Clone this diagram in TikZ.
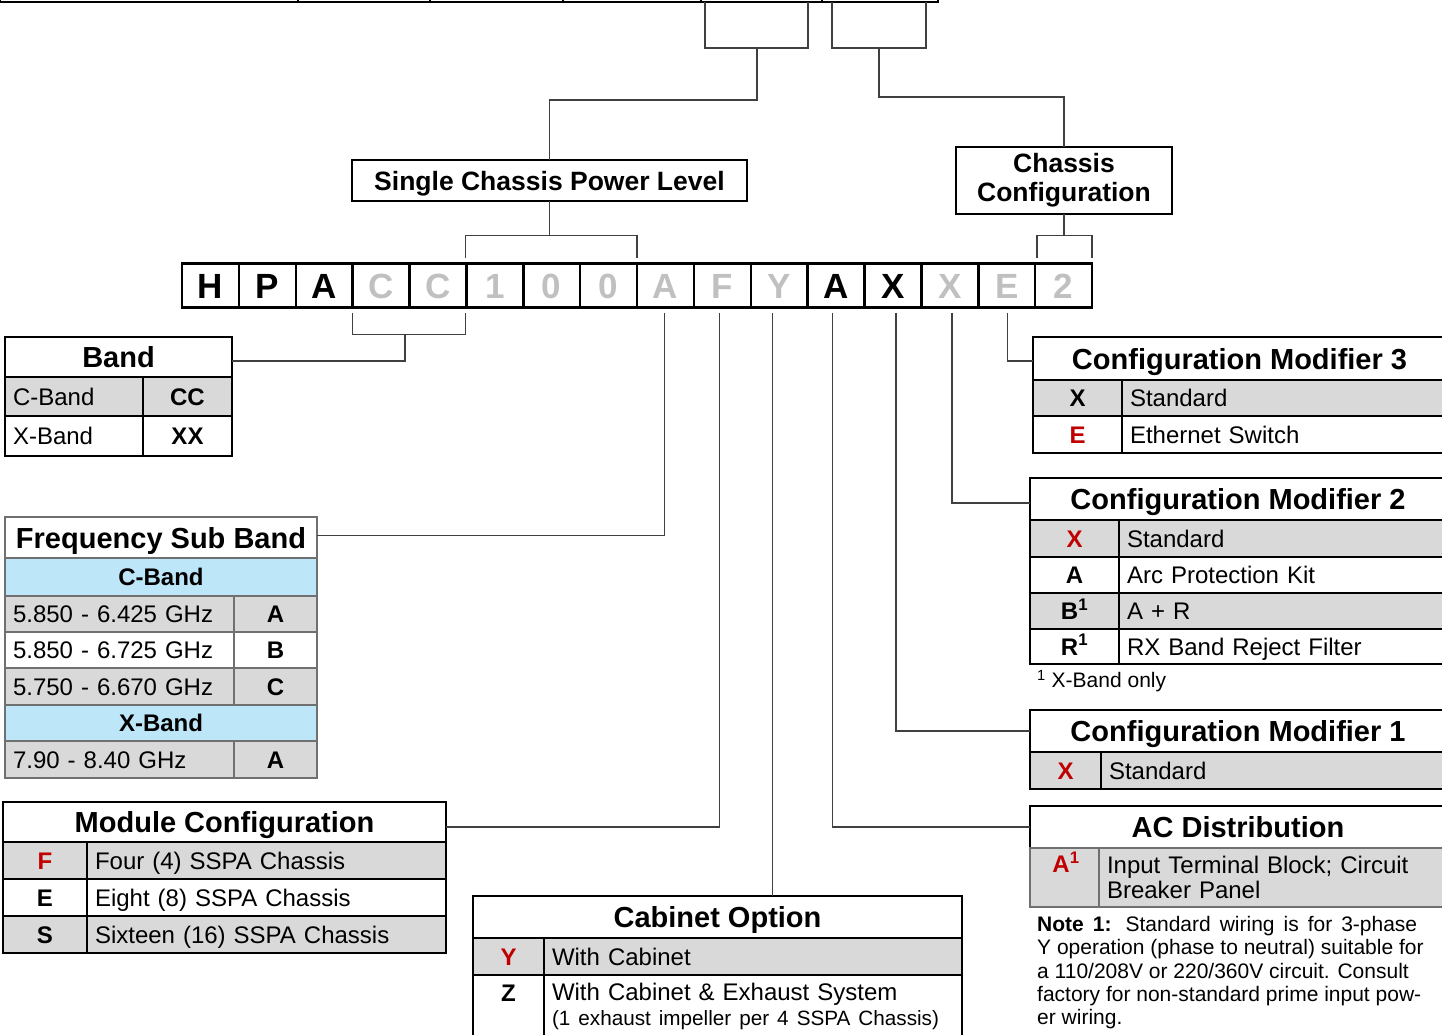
\documentclass[tikz,border=0pt]{standalone}
\usepackage{fontspec}
\setmainfont{Liberation Sans}
\usetikzlibrary{calc}
\definecolor{cgray}{HTML}{D9D9D9}
\definecolor{cblue}{HTML}{BDE6F9}
\definecolor{cred}{HTML}{C00000}
\definecolor{lgray}{HTML}{C0C0C0}
\definecolor{lcol}{HTML}{404040}
\definecolor{fgray}{HTML}{707070}
\newcommand\hdf{\fontsize{29}{33}\selectfont\bfseries}
\newcommand\bdf{\fontsize{24}{28}\selectfont}
\tikzset{
 conn/.style={draw=lcol, line width=1.5pt},
 cell/.style={draw=black, line width=2pt, anchor=north west, inner sep=0pt, outer sep=0pt},
 codebox/.style={cell, line width=2.5pt, minimum width=56.875, minimum height=44.4, font=\fontsize{35}{35}\selectfont\bfseries, text height=25pt, text depth=0pt},
 hd/.style={font=\hdf, text height=21pt, text depth=0pt},
 bd/.style={font=\bdf, text height=17pt, text depth=0pt},
 bdb/.style={font=\bdf\bfseries, text height=17pt, text depth=0pt},
}
\newcommand\ccell[8]{\node[cell,minimum width=#4,minimum height=#5,#6,#7] (#1) at (#2,#3) {#8};}
\newcommand\lcell[8]{\pgfmathsetmacro\lcw{#4-16}\node[cell,minimum width=#4,minimum height=#5,text width=\lcw pt,align=left,#6,#7] (#1) at (#2,#3) {#8};}
\newcommand\cbox[3]{\node[codebox, text=#3] (c#1) at ({182+(#1-1)*56.875},263.3) {#2};}
\begin{document}
\begin{tikzpicture}[x=1pt,y=-1pt]
\useasboundingbox (0,0) rectangle (1442,1034);
% top row (cut off)
\node[cell,minimum width=298,minimum height=41.5] (t1) at (0,-40) {};
\node[cell,minimum width=132,minimum height=41.5] (t2) at (298,-40) {};
\node[cell,minimum width=133,minimum height=41.5] (t3) at (430,-40) {};
\node[cell,minimum width=138,minimum height=41.5] (t4) at (563,-40) {};
\node[cell,minimum width=121,minimum height=41.5] (t5) at (701,-40) {};
\node[cell,minimum width=116,minimum height=41.5] (t6) at (822,-40) {};
\draw[conn] ($(t5.south west)+(4,0)$) |- ($(t5.south east)+(-14,46.5)$) -- ($(t5.south east)+(-14,0)$);
\draw[conn] ($(t6.south west)+(10,0)$) |- ($(t6.south east)+(-12,46.5)$) -- ($(t6.south east)+(-12,0)$);
\coordinate (hb1) at ($(t5.south west)+(56,46.5)$);
\coordinate (hb2) at ($(t6.south west)+(57,46.5)$);
% title boxes
\node[cell, minimum width=395, minimum height=41, font=\fontsize{26.5}{28}\selectfont\bfseries, text height=19pt, text depth=0pt] (scpl) at (352,160) {Single Chassis Power Level};
\node[cell, minimum width=216, minimum height=67, align=center, font=\fontsize{26.5}{29}\selectfont\bfseries] (ccfg) at (956,147) {Chassis\\Configuration};
\draw[conn] (hb1) -- ++(0,52) -| (scpl.north);
\draw[conn] (hb2) -- ++(0,49) -| (ccfg.north);
% code boxes
\cbox{1}{H}{black}\cbox{2}{P}{black}\cbox{3}{A}{black}\cbox{4}{C}{lgray}
\cbox{5}{C}{lgray}\cbox{6}{1}{lgray}\cbox{7}{0}{lgray}\cbox{8}{0}{lgray}
\cbox{9}{A}{lgray}\cbox{10}{F}{lgray}\cbox{11}{Y}{lgray}\cbox{12}{A}{black}
\cbox{13}{X}{black}\cbox{14}{X}{lgray}\cbox{15}{E}{lgray}\cbox{16}{2}{lgray}
\draw[conn] (scpl.south) -- ++(0,34);
\draw[conn] ($(c6.north west)+(-1,-5)$) |- ($(c8.north east)+(0,-28)$) -- ($(c8.north east)+(0,-5)$);
\draw[conn] (ccfg.south) -- ++(0,21);
\draw[conn] ($(c16.north west)+(2,-5)$) |- ($(c16.north east)+(0,-28)$) -- ($(c16.north east)+(0,-5)$);
% Band
\ccell{band}{5}{337}{227}{40}{fill=white}{hd}{Band}
\lcell{bnda}{5}{377}{138}{39}{fill=cgray}{bd}{C-Band}
\ccell{bndb}{143}{377}{89}{39}{fill=cgray}{bdb}{CC}
\lcell{bndc}{5}{416}{138}{40}{fill=white}{bd}{X-Band}
\ccell{bndd}{143}{416}{89}{40}{fill=white}{bdb}{XX}
% Frequency sub band
\ccell{fsb}{5}{517}{312}{41}{fill=white,draw=fgray}{hd}{Frequency Sub Band}
\ccell{fcb}{5}{558}{312}{38}{fill=cblue,draw=fgray}{bdb}{C-Band}
\lcell{f1a}{5}{596}{229}{36}{fill=cgray,draw=fgray}{bd}{5.850 - 6.425 GHz}
\ccell{f1b}{234}{596}{83}{36}{fill=cgray,draw=fgray}{bdb}{A}
\lcell{f2a}{5}{632}{229}{36}{fill=white,draw=fgray}{bd}{5.850 - 6.725 GHz}
\ccell{f2b}{234}{632}{83}{36}{fill=white,draw=fgray}{bdb}{B}
\lcell{f3a}{5}{668}{229}{37}{fill=cgray,draw=fgray}{bd}{5.750 - 6.670 GHz}
\ccell{f3b}{234}{668}{83}{37}{fill=cgray,draw=fgray}{bdb}{C}
\ccell{fxb}{5}{705}{312}{36}{fill=cblue,draw=fgray}{bdb}{X-Band}
\lcell{f4a}{5}{741}{229}{37}{fill=cgray,draw=fgray}{bd}{7.90 - 8.40 GHz}
\ccell{f4b}{234}{741}{83}{37}{fill=cgray,draw=fgray}{bdb}{A}
% Module configuration
\ccell{mod}{3}{802}{443}{40}{fill=white}{hd}{Module Configuration}
\ccell{m1a}{3}{842}{84}{37}{fill=cgray,text=cred}{bdb}{F}
\lcell{m1b}{87}{842}{359}{37}{fill=cgray}{bd}{Four (4) SSPA Chassis}
\ccell{m2a}{3}{879}{84}{37}{fill=white}{bdb}{E}
\lcell{m2b}{87}{879}{359}{37}{fill=white}{bd}{Eight (8) SSPA Chassis}
\ccell{m3a}{3}{916}{84}{37}{fill=cgray}{bdb}{S}
\lcell{m3b}{87}{916}{359}{37}{fill=cgray}{bd}{Sixteen (16) SSPA Chassis}
% Cabinet option
\ccell{cab}{473}{896}{489}{42}{fill=white}{hd}{Cabinet Option}
\ccell{k1a}{473}{938}{71}{37}{fill=cgray,text=cred}{bdb}{Y}
\lcell{k1b}{544}{938}{418}{37}{fill=cgray}{bd}{With Cabinet}
\node[cell, fill=white, minimum width=71, minimum height=63] (k2a) at (473,975) {};
\node[font=\bdf\bfseries, text height=17pt, text depth=0pt, inner sep=0pt] (kz) at (508.5,993) {Z};
\node[cell, fill=white, minimum width=418, minimum height=63, text width=402pt, align=left, font=\fontsize{24}{25}\selectfont] (k2b) at (544,975) {With Cabinet \& Exhaust System\\{\fontsize{20.7}{25}\selectfont (1 exhaust impeller per 4 SSPA Chassis)}};
% Configuration modifier 3
\ccell{cm3}{1033}{337}{413}{43}{fill=white}{hd}{Configuration Modifier 3}
\ccell{x3a}{1033}{380}{89}{36}{fill=cgray}{bdb}{X}
\lcell{x3b}{1122}{380}{324}{36}{fill=cgray}{bd}{Standard}
\ccell{e3a}{1033}{416}{89}{37}{fill=white,text=cred}{bdb}{E}
\lcell{e3b}{1122}{416}{324}{37}{fill=white}{bd}{Ethernet Switch}
% Configuration modifier 2
\ccell{cm2}{1030}{478}{416}{42}{fill=white}{hd}{Configuration Modifier 2}
\ccell{q1a}{1030}{520}{89}{37}{fill=cgray,text=cred}{bdb}{X}
\lcell{q1b}{1119}{520}{327}{37}{fill=cgray}{bd}{Standard}
\ccell{q2a}{1030}{557}{89}{36}{fill=white}{bdb}{A}
\lcell{q2b}{1119}{557}{327}{36}{fill=white}{bd}{Arc Protection Kit}
\ccell{q3a}{1030}{593}{89}{36}{fill=cgray}{bdb}{B\textsuperscript{1}}
\lcell{q3b}{1119}{593}{327}{36}{fill=cgray}{bd}{A + R}
\ccell{q4a}{1030}{629}{89}{35}{fill=white}{bdb}{R\textsuperscript{1}}
\lcell{q4b}{1119}{629}{327}{35}{fill=white}{bd}{RX Band Reject Filter}
\node[anchor=west, inner sep=0pt, font=\fontsize{21}{24}\selectfont] (fn) at (1037,681) {\textsuperscript{1} X-Band only};
% Configuration modifier 1
\ccell{cm1}{1030}{710}{416}{42}{fill=white}{hd}{Configuration Modifier 1}
\ccell{p1a}{1030}{752}{71}{37}{fill=cgray,text=cred}{bdb}{X}
\lcell{p1b}{1101}{752}{345}{37}{fill=cgray}{bd}{Standard}
% AC distribution
\ccell{ach}{1030}{806}{416}{42}{fill=white}{hd}{AC Distribution}
\node[cell, fill=cgray, draw=fgray, minimum width=69, minimum height=59] (ac1a) at (1030,848) {};
\node[text=cred, font=\bdf\bfseries, text height=17pt, text depth=0pt, inner sep=0pt] (acA) at (1066,864) {A\textsuperscript{1}};
\node[cell, fill=cgray, draw=fgray, minimum width=347, minimum height=59, text width=331pt, align=left, font=\fontsize{24}{25}\selectfont] (ac1b) at (1099,848) {Input Terminal Block; Circuit\\Breaker Panel};
\node[anchor=north west, inner sep=0pt, align=left, font=\fontsize{21}{23.3}\selectfont] (note) at (1037,916) {\makebox[380pt][s]{\textbf{Note 1:} Standard wiring is for 3-phase}\\Y operation (phase to neutral) suitable for\\a 110/208V or 220/360V circuit. Consult\\factory for non-standard prime input pow-\\er wiring.};
% connectors below the code
\draw[conn] ($(c4.south west)+(0,5)$) -- ++(0,22) -| ($(c5.south east)+(-1,5)$);
\coordinate (bk) at (405,335);
\draw[conn] (bk) |- ($(band.east)+(0,4)$);
\draw[conn] ($(c9.south)+(-1,5)$) |- ($(fsb.east)+(0,-2)$);
\draw[conn] ($(c10.south)+(-3,5)$) |- ($(mod.east)+(0,5)$);
\coordinate (yl) at ($(c11.south)+(-6.5,5)$);
\draw[conn] (yl) -- (yl |- cab.north);
\draw[conn] ($(c12.south)+(-3.5,5)$) |- (ach.west);
\draw[conn] ($(c13.south)+(3,5)$) |- (cm1.west);
\draw[conn] ($(c14.south)+(2,5)$) |- ($(cm2.west)+(0,4)$);
\draw[conn] ($(c15.south)+(1,5)$) |- ($(cm3.west)+(0,2.5)$);
\end{tikzpicture}
\end{document}
